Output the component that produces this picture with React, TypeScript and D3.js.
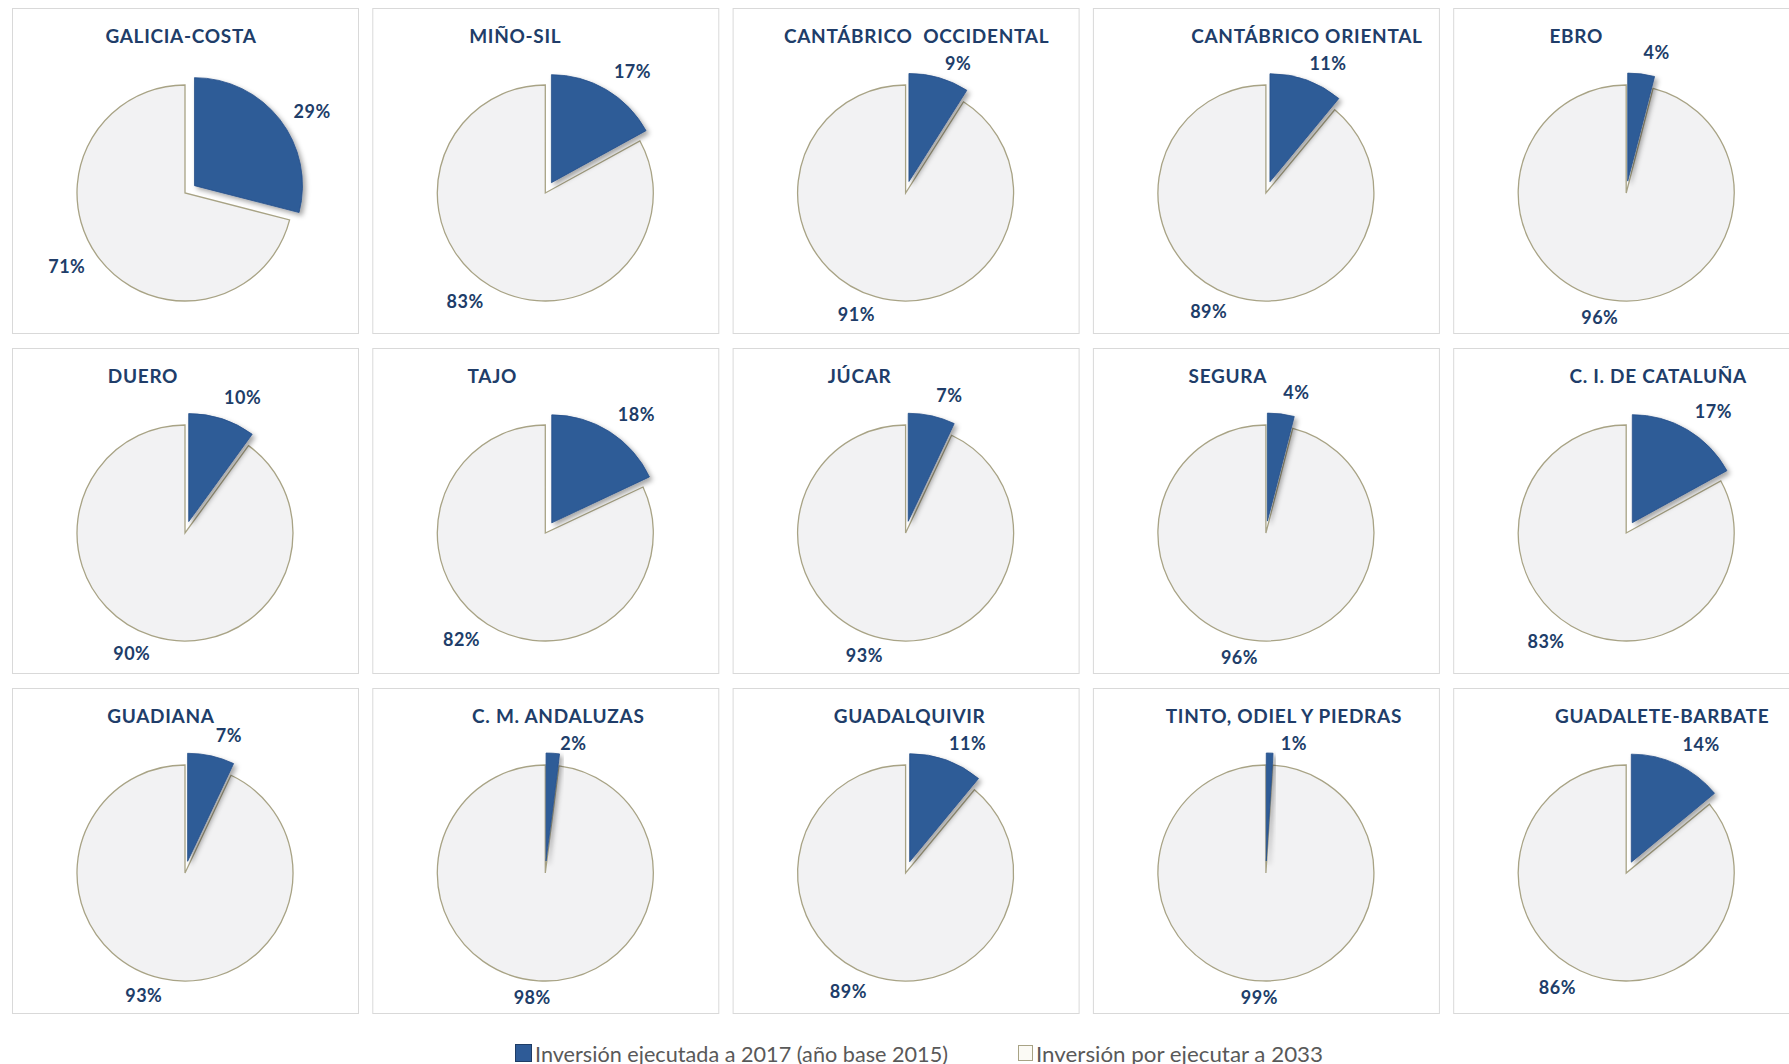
import React from "react";
import * as d3 from "d3";

// ---- data ----
const basins = [
  "GALICIA-COSTA",
  "MIÑO-SIL",
  "CANTÁBRICO  OCCIDENTAL",
  "CANTÁBRICO ORIENTAL",
  "EBRO",
  "DUERO",
  "TAJO",
  "JÚCAR",
  "SEGURA",
  "C. I. DE CATALUÑA",
  "GUADIANA",
  "C. M. ANDALUZAS",
  "GUADALQUIVIR",
  "TINTO, ODIEL Y PIEDRAS",
  "GUADALETE-BARBATE",
];
const executedPct = [29, 17, 9, 11, 4, 10, 18, 7, 4, 17, 7, 2, 11, 1, 14];
const pendingPct = [71, 83, 91, 89, 96, 90, 82, 93, 96, 83, 93, 98, 89, 99, 86];
const seriesNames = [
  "Inversión ejecutada a 2017 (año base 2015)",
  "Inversión por ejecutar a 2033",
];

// ---- layout (not data) ----
const titleCenterOffsets = [
  169, 143, 184, 214, 123,
  131, 120, 127, 135, 205,
  149, 186, 177, 191, 209,
];

const W = 1789;
const H = 1064;
const COLS = 5;
const PANEL_W = 346;
const PANEL_H = 325;
const R = 108;
const EXPLODE = 12;
const BLUE = "#2e5b97";
const GREY_FILL = "#f2f2f3";
const GREY_STROKE = "#a8a385";
const TEXT = "#203d69";
const FONT = "Lato, 'Open Sans', sans-serif";

export default function App() {
  const colX = d3.scaleLinear().domain([0, 1]).range([12, 372.3]);
  const rowY = d3.scaleLinear().domain([0, 1]).range([8, 348]);
  const pie = d3
    .pie<number>()
    .sort(null)
    .value((d) => d);
  const arc = d3.arc<d3.PieArcDatum<number>>().innerRadius(0).outerRadius(R);
  const deg = Math.PI / 180;

  const labelPos = (
    theta: number,
    dist0: number,
    w: number,
    h: number,
    cx: number,
    cy: number
  ) => {
    const D =
      dist0 + (w / 2) * Math.abs(Math.sin(theta)) + (h / 2) * Math.abs(Math.cos(theta));
    return [cx + D * Math.sin(theta), cy - D * Math.cos(theta)];
  };

  return (
    <svg
      width={W}
      height={H}
      style={{ position: "absolute", left: 0, top: 0, background: "#fff" }}
      fontFamily={FONT}
    >
      <defs>
        <filter id="sh" x="-30%" y="-30%" width="160%" height="160%">
          <feDropShadow dx="3" dy="3" stdDeviation="2.5" floodColor="#000" floodOpacity="0.35" />
        </filter>
      </defs>
      <rect x={0} y={0} width={W} height={H} fill="#fff" />
      {basins.map((name, i) => {
        const col = i % COLS;
        const row = Math.floor(i / COLS);
        const px = colX(col);
        const py = rowY(row);
        const cx = px + 173;
        const cy = py + 185;
        const arcs = pie([executedPct[i], pendingPct[i]]);
        const blue = arcs[0];
        const grey = arcs[1];
        const bis = (blue.startAngle + blue.endAngle) / 2;
        const ex = EXPLODE * Math.sin(bis);
        const ey = -EXPLODE * Math.cos(bis);
        const gBis = (grey.startAngle + grey.endAngle) / 2;
        const bTxt = `${executedPct[i]}%`;
        const gTxt = `${pendingPct[i]}%`;
        const shift = 6 * deg * Math.min(1, executedPct[i] / 5);

        // blue label: outside end, kept clear of the title
        let [blx, bly] = labelPos(bis + 5 * deg, R + 24, bTxt.length * 11, 20, cx, cy);
        blx = Math.max(blx, cx + 28);
        const tCx = px + titleCenterOffsets[i];
        const tHalf = (name.length * 12.5) / 2;
        const lw = bTxt.length * 11;
        if (blx - lw / 2 < tCx + tHalf && blx + lw / 2 > tCx - tHalf) {
          bly = Math.max(bly, py + 55);
        }
        // grey label
        const [glx, gly] = labelPos(gBis + shift, R + 14, gTxt.length * 13, 2, cx, cy);
        return (
          <g key={name}>
            <rect
              x={px + 0.5}
              y={py + 0.5}
              width={PANEL_W}
              height={PANEL_H}
              fill="#fff"
              stroke="#d9d9d9"
              strokeWidth={1}
            />
            <text
              x={tCx}
              y={py + 27}
              textAnchor="middle"
              dominantBaseline="central"
              fontSize={19}
              letterSpacing={0.7}
              fontWeight={700}
              fill={TEXT}
              style={{ whiteSpace: "pre" }}
            >
              {name}
            </text>
            <path
              d={arc(grey) || ""}
              transform={`translate(${cx},${cy})`}
              fill={GREY_FILL}
              stroke={GREY_STROKE}
              strokeWidth={1.3}
            />
            <path
              d={arc(blue) || ""}
              transform={`translate(${cx + ex},${cy + ey})`}
              fill={BLUE}
              stroke="#27508a"
              strokeWidth={0.8}
              filter="url(#sh)"
            />
            <text
              x={blx}
              y={bly}
              textAnchor="middle"
              dominantBaseline="central"
              fontSize={18}
              letterSpacing={0.5}
              fontWeight={700}
              fill={TEXT}
            >
              {bTxt}
            </text>
            <text
              x={glx}
              y={gly}
              textAnchor="middle"
              dominantBaseline="central"
              fontSize={18}
              letterSpacing={0.5}
              fontWeight={700}
              fill={TEXT}
            >
              {gTxt}
            </text>
          </g>
        );
      })}
      {/* legend */}
      <g fontSize={21} fill="#595959">
        <rect x={515.5} y={1044.5} width={16} height={17} fill={BLUE} stroke="#1f3d66" />
        <text
          x={535}
          y={1053}
          dominantBaseline="central"
          textLength={413}
          lengthAdjust="spacingAndGlyphs"
        >
          {seriesNames[0]}
        </text>
        <rect x={1018.5} y={1045.5} width={14} height={15} fill="#fbfaf5" stroke={GREY_STROKE} />
        <text
          x={1036}
          y={1053}
          dominantBaseline="central"
          textLength={287}
          lengthAdjust="spacingAndGlyphs"
        >
          {seriesNames[1]}
        </text>
      </g>
    </svg>
  );
}
